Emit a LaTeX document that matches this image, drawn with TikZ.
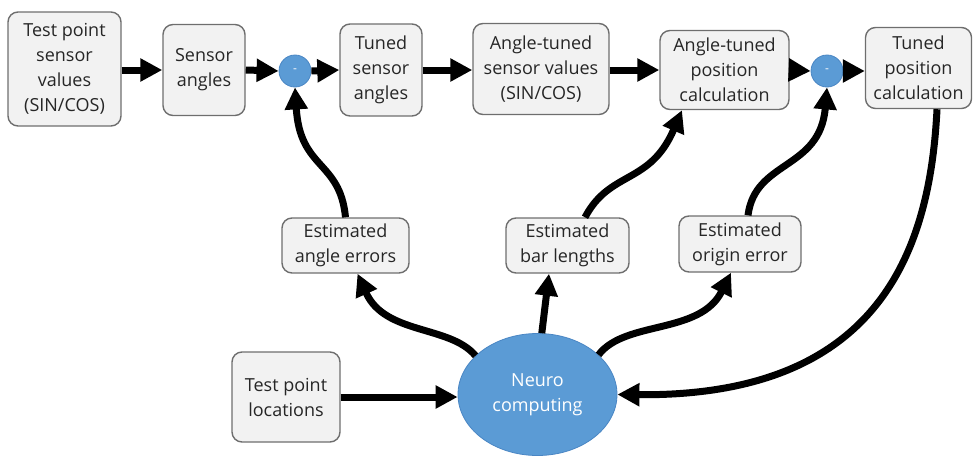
\documentclass[tikz,border=0pt]{standalone}
\usepackage{fontspec}
\setmainfont{Open Sans}
\usetikzlibrary{arrows.meta,shapes.geometric,calc}
\definecolor{boxfill}{HTML}{F2F2F2}
\definecolor{boxline}{HTML}{6E6E6E}
\definecolor{nblue}{HTML}{5B9BD5}
\definecolor{nblueline}{HTML}{4A86C4}
\begin{document}
\begin{tikzpicture}[x=0.5pt,y=-0.5pt,
  box/.style={draw=boxline, fill=boxfill, line width=0.7pt, rounded corners=5pt,
    align=center, inner sep=0pt, font=\fontsize{9}{12.5}\selectfont, text=black!85},
  sumnode/.style={circle, fill=nblue, draw=nblueline, line width=0.4pt,
    minimum size=16pt, inner sep=0pt, text=white, font=\fontsize{6}{6}\selectfont},
  neuro/.style={ellipse, fill=nblue, draw=nblueline, line width=0.4pt,
    minimum width=79.5pt, minimum height=61pt, inner sep=0pt, align=center,
    text=white, font=\fontsize{9}{12.5}\selectfont},
  conn/.style={line width=3.5pt, -{Triangle[length=11pt,width=11pt]}}
]
\useasboundingbox (0,0) rectangle (973,455);
\clip (0,0) rectangle (973,455);

% top row
\node[box, minimum width=56.5pt, minimum height=57pt] (b1) at (64.5,69) {Test point\\sensor\\values\\(SIN/COS)};
\node[box, minimum width=41pt, minimum height=45.5pt] (b2) at (204,70) {Sensor\\angles};
\node[sumnode] (c1) at (295,71) {-};
\node[box, minimum width=41pt, minimum height=46pt] (b4) at (381,70) {Tuned\\sensor\\angles};
\node[box, minimum width=68pt, minimum height=45.5pt] (b5) at (541,69) {Angle-tuned\\sensor values\\(SIN/COS)};
\node[box, minimum width=64.5pt, minimum height=39.5pt] (b6) at (724.5,70) {Angle-tuned\\position\\calculation};
\node[sumnode] (c2) at (827,71) {-};
\node[box, minimum width=53pt, minimum height=40.5pt] (b8) at (918.5,68) {Tuned\\position\\calculation};

% middle row
\node[box, minimum width=63.5pt, minimum height=27.5pt] (e1) at (345.5,245.5) {Estimated\\angle errors};
\node[box, minimum width=61.5pt, minimum height=27.5pt] (e2) at (567.5,245.5) {Estimated\\bar lengths};
\node[box, minimum width=61pt, minimum height=28pt] (e3) at (740,244) {Estimated\\origin error};

% bottom row
\node[box, minimum width=54pt, minimum height=45pt] (tl) at (286,397) {Test point\\locations};
\node[neuro] (nc) at (537.5,394.5) {Neuro\\computing};

% top row arrows
\draw[conn] (b1.east |- b2) -- (b2.west);
\draw[conn] (b2.east) -- (c1.west);
\draw[conn] (c1.east) -- (b4.west);
\draw[conn] (b4.east) -- (b4.east -| b5.west);
\draw[conn] (b5.east |- b6) -- (b6.west);
\draw[conn] (b6.east) -- (c2.west);
\draw[conn] (c2.east) -- (c2.east -| b8.west);

% estimates up to the top row
\draw[conn] (e1.north) .. controls (340,160) and (300,170) .. (c1.south);
\draw[conn] ($(e2.north)+(17.5,0)$) .. controls (610,170) and (650,185) .. ($(b6.south)+(-42.5,0)$);
\draw[conn] ($(e3.north)+(8,0)$) .. controls (755,160) and (820,170) .. (c2.south);

% neuro computing out to the estimates
\draw[conn] (nc.148) .. controls (450,325) and (385,335) .. ($(e1.south)+(12,0)$);
\draw[conn] (nc.86) -- ($(e2.south)+(-18.5,0)$);
\draw[conn] (nc.33) .. controls (625,320) and (700,335) .. ($(e3.south)+(-9,0)$);

% inputs to neuro computing
\draw[conn] (tl.east) -- (tl.east -| nc.west);
\draw[conn] ($(b8.south)+(18.5,0)$) .. controls (930,250) and (880,397) .. (nc.east);
\end{tikzpicture}
\end{document}
